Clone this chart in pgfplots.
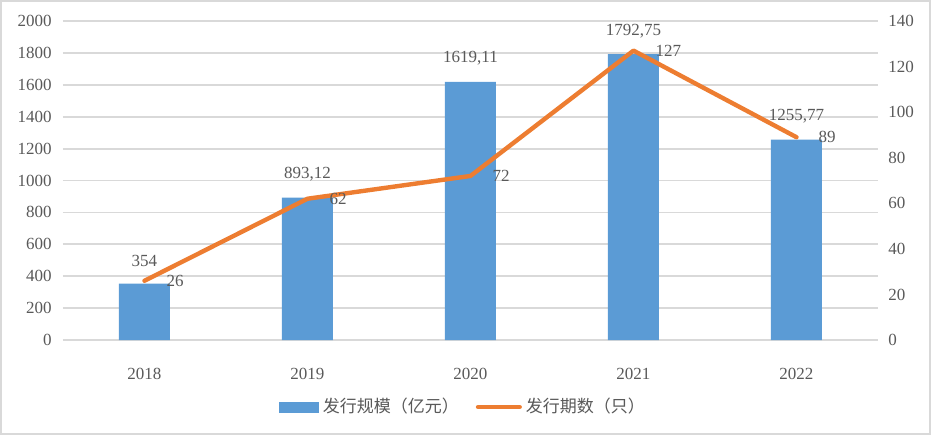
\documentclass[border=0pt]{standalone}
\usepackage{fontspec}
\setmainfont{Liberation Serif}
\newfontfamily\cjk{Noto Sans CJK SC}
\usepackage{pgfplots}
\usepackage{pgfplotstable}
\pgfplotsset{compat=1.18}
\definecolor{barblue}{HTML}{5B9BD5}
\definecolor{lineorange}{HTML}{ED7D31}
\definecolor{gridgray}{HTML}{D9D9D9}
\definecolor{txtgray}{HTML}{595959}

\pgfplotstableread{
x  vol      lab      cnt
0  354      354      26
1  893.12   893,12   62
2  1619.11  1619,11  72
3  1792.75  1792,75  127
4  1255.77  1255,77  89
}\issues

\begin{document}
\begin{tikzpicture}
\path (0,0) rectangle (465.5pt,217.5pt);
\draw[gridgray, line width=1pt] (0.5pt,0.5pt) rectangle (465pt,217pt);
\pgfplotsset{
  base/.style={
    at={(31.5pt,47.5pt)}, anchor=south west,
    scale only axis, width=407.5pt, height=159.5pt,
    xmin=-0.5, xmax=4.5, clip=false,
    font=\fontsize{8.5}{10}\selectfont,
    /pgf/number format/assume math mode=true,
    /pgf/number format/1000 sep={},
    tick style={draw=none},
    ticklabel style={text=txtgray},
  }
}
\begin{axis}[base,
  ymin=0, ymax=2000, ytick={0,200,...,2000},
  axis line style={draw=none},
  ymajorgrids, grid style={gridgray, line width=0.9pt},
  xtick={0,...,4}, xticklabels={2018,2019,2020,2021,2022},
  xticklabel style={inner sep=0pt, yshift=-9.5pt},
  yticklabel style={inner sep=0pt, xshift=-5.5pt},
  ybar, bar width=25.5pt,
  nodes near coords, point meta=explicit symbolic,
  nodes near coords style={text=txtgray, anchor=south, inner sep=0pt, yshift=8pt},
]
\addplot[fill=barblue, draw=none] table[x=x, y=vol, meta=lab] {\issues};
\end{axis}
\begin{axis}[base,
  ymin=0, ymax=140, ytick={0,20,...,140},
  axis y line*=right, axis line style={draw=none},
  hide x axis,
  yticklabel style={inner sep=0pt, xshift=5pt},
  legend style={draw=none, at={(0.492,-0.21)}, anchor=center,
    legend columns=-1, font=\cjk\fontsize{8.5}{10}\selectfont, text=txtgray,
    /tikz/every even column/.append style={column sep=6.5pt}},
]
\addlegendimage{legend image code/.code={\fill[barblue] (0pt,-2.5pt) rectangle (19.5pt,2.5pt);}}
\addlegendentry{发行规模（亿元）}
\addplot[lineorange, line width=2.2pt, line join=round, line cap=round, mark=none,
  nodes near coords, nodes near coords style={text=txtgray, anchor=west, inner sep=0pt, xshift=10pt, font=\fontsize{8.5}{10}\selectfont},
  legend image code/.code={\draw[lineorange, line width=2pt] (0pt,0pt) -- (21pt,0pt);}]
  table[x=x, y=cnt] {\issues};
\addlegendentry{发行期数（只）}
\end{axis}
\end{tikzpicture}
\end{document}
